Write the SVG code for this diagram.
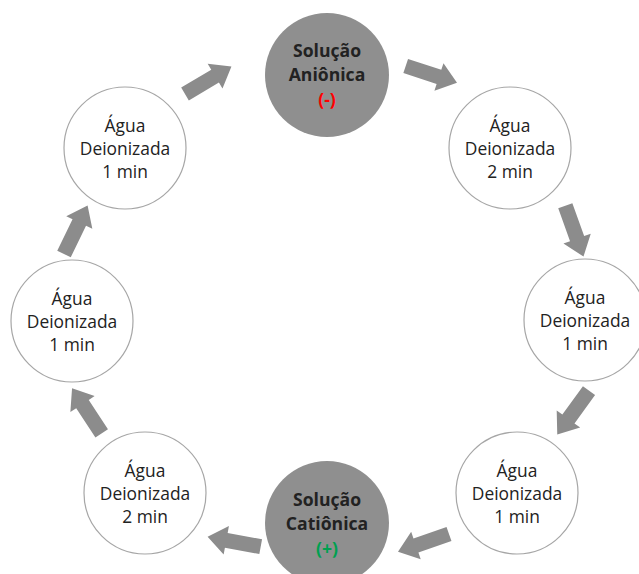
<svg xmlns="http://www.w3.org/2000/svg" width="639" height="574" viewBox="0 0 639 574">
<style>
.w{fill:#ffffff;stroke:#a6a6a6;stroke-width:1.2}
.g{fill:#8f8f8f;stroke:none}
.t{font-family:"Open Sans","Noto Sans","Liberation Sans",sans-serif;font-size:17.4px;fill:#222222;text-anchor:middle}
.b{font-weight:bold;font-size:17.6px}
.arr{fill:#8c8c8c}
</style>
<defs>
<path id="ar" d="M0,-7.5 L35,-7.5 L35,-14.5 L54,0 L35,14.5 L35,7.5 L0,7.5 Z"/>
</defs>
<rect width="639" height="574" fill="#ffffff"/>
<g id="connectors" class="arr">
<use href="#ar" transform="translate(185,94) rotate(-30.7)"/>
<use href="#ar" transform="translate(405.7,66) rotate(18.2)"/>
<use href="#ar" transform="translate(565.3,205.7) rotate(70.3)"/>
<use href="#ar" transform="translate(589,390.7) rotate(126)"/>
<use href="#ar" transform="translate(449,534) rotate(160.8)"/>
<use href="#ar" transform="translate(260.7,546.7) rotate(190.5)"/>
<use href="#ar" transform="translate(101.7,433.3) rotate(236.7)"/>
<use href="#ar" transform="translate(64,254) rotate(-64.1)"/>
</g>
<g id="anionica">
<circle class="g" cx="327" cy="75" r="62"/>
<text class="t b" x="327" y="57">Solução</text>
<text class="t b" x="327" y="81">Aniônica</text>
<text class="t b" x="327" y="106" style="fill:#ff0000">(-)</text>
</g>
<g id="agua2min_tr">
<circle class="w" cx="510" cy="148" r="61"/>
<text class="t" x="510" y="132">Água</text>
<text class="t" x="510" y="155">Deionizada</text>
<text class="t" x="510" y="178">2 min</text>
</g>
<g id="agua1min_r">
<circle class="w" cx="585" cy="320" r="61"/>
<text class="t" x="585" y="304">Água</text>
<text class="t" x="585" y="327">Deionizada</text>
<text class="t" x="585" y="350">1 min</text>
</g>
<g id="agua1min_br">
<circle class="w" cx="517" cy="493" r="61"/>
<text class="t" x="517" y="477">Água</text>
<text class="t" x="517" y="500">Deionizada</text>
<text class="t" x="517" y="523">1 min</text>
</g>
<g id="cationica">
<circle class="g" cx="327" cy="523" r="62"/>
<text class="t b" x="327" y="506">Solução</text>
<text class="t b" x="327" y="530">Catiônica</text>
<text class="t b" x="327" y="555" style="fill:#00a050">(+)</text>
</g>
<g id="agua2min_bl">
<circle class="w" cx="145" cy="493" r="61"/>
<text class="t" x="145" y="477">Água</text>
<text class="t" x="145" y="500">Deionizada</text>
<text class="t" x="145" y="523">2 min</text>
</g>
<g id="agua1min_l">
<circle class="w" cx="72" cy="321" r="61"/>
<text class="t" x="72" y="305">Água</text>
<text class="t" x="72" y="328">Deionizada</text>
<text class="t" x="72" y="351">1 min</text>
</g>
<g id="agua1min_tl">
<circle class="w" cx="125" cy="148" r="61"/>
<text class="t" x="125" y="132">Água</text>
<text class="t" x="125" y="155">Deionizada</text>
<text class="t" x="125" y="178">1 min</text>
</g>
</svg>
